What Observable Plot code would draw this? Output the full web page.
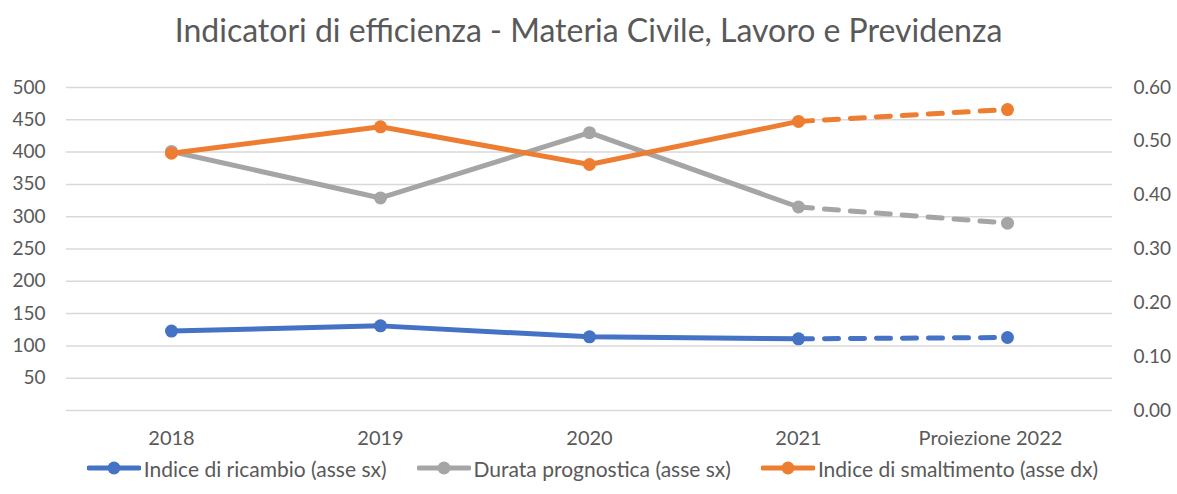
<!DOCTYPE html>
<html>
<head>
<meta charset="utf-8">
<script src="https://cdn.jsdelivr.net/npm/d3@7"></script>
<script src="https://cdn.jsdelivr.net/npm/@observablehq/plot@0.6"></script>
<style>
  html, body { margin: 0; padding: 0; background: #fff; }
  #wrap { width: 1177px; height: 494px; position: relative; font-family: Lato, "Open Sans", sans-serif; color: #595959; }
  #title { height: 58px; line-height: 60px; text-align: center; font-size: 32px; }
  #legend { display: flex; justify-content: center; align-items: center; gap: 30px; font-size: 21px; height: 30px; margin-left: 8px; }
  .item { display: flex; align-items: center; gap: 3px; }
</style>
</head>
<body>
<div id="wrap">
  <div id="title">Indicatori di efficienza - Materia Civile, Lavoro e Previdenza</div>
  <div id="chart"></div>
  <div id="legend"></div>
</div>
<script>
const categories = ["2018", "2019", "2020", "2021", "Proiezione 2022"];
const ricambio = [123, 131, 114, 111, 113];          // asse sx
const durata = [401, 329, 430, 315, 290];            // asse sx
const smaltimento = [0.478, 0.527, 0.457, 0.537, 0.559]; // asse dx
const leftTicks = [50, 100, 150, 200, 250, 300, 350, 400, 450, 500];
const gridTicks = [0, 50, 100, 150, 200, 250, 300, 350, 400, 450, 500];
const rightTicks = [0, 0.1, 0.2, 0.3, 0.4, 0.5, 0.6];
const seriesNames = ["Indice di ricambio (asse sx)", "Durata prognostica (asse sx)", "Indice di smaltimento (asse dx)"];
const colors = ["#4472C4", "#A5A5A5", "#ED7D31"];
const leftMax = 500, rightMax = 0.6;
const lastActual = 3; // index of 2021

const toLeft = v => v * leftMax / rightMax;
const seriesValues = [ricambio, durata, smaltimento.map(toLeft)];

const marks = [
  Plot.ruleY(gridTicks, {stroke: "#D9D9D9", strokeWidth: 1.5}),
  Plot.axisY(leftTicks, {anchor: "left", tickSize: 0, tickPadding: 21, label: null}),
  Plot.axisY(rightTicks.map(toLeft), {anchor: "right", tickSize: 0, tickPadding: 21, label: null,
    tickFormat: d => (d * rightMax / leftMax).toFixed(2)}),
  Plot.axisX(categories.slice(0, lastActual + 1), {tickSize: 0, tickPadding: 20, label: null, fontSize: 20}),
  Plot.axisX(categories.slice(lastActual + 1), {tickSize: 0, tickPadding: 20, label: null, fontSize: 20, dx: -17})
];

seriesValues.forEach((vals, s) => {
  const rows = vals.map((v, i) => ({cat: categories[i], y: v, i}));
  const solid = rows.filter(r => r.i <= lastActual);
  const dashed = rows.filter(r => r.i >= lastActual);
  marks.push(Plot.line(solid, {x: "cat", y: "y", stroke: colors[s], strokeWidth: 5, strokeLinecap: "round", strokeLinejoin: "round"}));
  marks.push(Plot.line(dashed, {x: "cat", y: "y", stroke: colors[s], strokeWidth: 5, strokeLinecap: "round", strokeDasharray: "14,12"}));
  marks.push(Plot.dot(rows, {x: "cat", y: "y", r: 6.5, fill: colors[s], stroke: "none"}));
});

const chart = Plot.plot({
  width: 1177,
  height: 395,
  marginLeft: 66,
  marginRight: 65,
  marginTop: 29,
  marginBottom: 43,
  style: {fontFamily: "Lato, 'Open Sans', sans-serif", fontSize: "19px", color: "#595959", background: "#fff"},
  x: {type: "point", domain: categories, padding: 0.5, axis: null},
  y: {domain: [0, leftMax], axis: null},
  marks
});
document.getElementById("chart").appendChild(chart);

const legend = document.getElementById("legend");
seriesNames.forEach((name, s) => {
  const item = document.createElement("div");
  item.className = "item";
  item.innerHTML = `<svg width="54" height="16"><line x1="2" x2="52" y1="8" y2="8" stroke="${colors[s]}" stroke-width="5" stroke-linecap="round"/><circle cx="27" cy="8" r="6.5" fill="${colors[s]}"/></svg><span>${name}</span>`;
  legend.appendChild(item);
});
</script>
</body>
</html>
